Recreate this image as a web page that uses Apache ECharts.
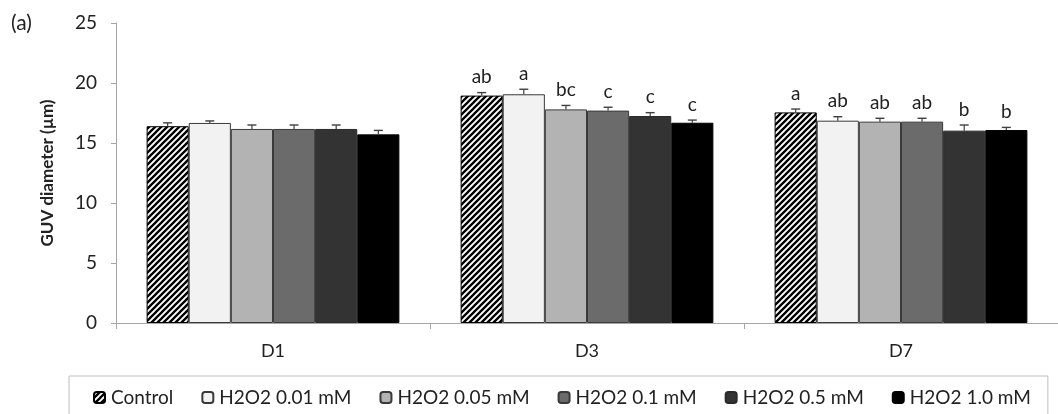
<!DOCTYPE html>
<html>
<head>
<meta charset="utf-8">
<script src="https://cdn.jsdelivr.net/npm/echarts@6/dist/echarts.min.js"></script>
<style>html,body{margin:0;padding:0;background:#fff;}#c{width:1058px;height:414px;}</style>
</head>
<body>
<div id="c"></div>
<script>
const categories = ['D1', 'D3', 'D7'];
const seriesNames = ['Control', 'H2O2 0.01 mM', 'H2O2 0.05 mM', 'H2O2 0.1 mM', 'H2O2 0.5 mM', 'H2O2 1.0 mM'];
const yTicks = [0, 5, 10, 15, 20, 25];

const control = [16.40, 18.95, 17.55];
const h2o2_001 = [16.67, 19.06, 16.86];
const h2o2_005 = [16.17, 17.80, 16.78];
const h2o2_01 = [16.17, 17.70, 16.78];
const h2o2_05 = [16.17, 17.25, 16.03];
const h2o2_10 = [15.72, 16.69, 16.08];

const errControl = [0.28, 0.25, 0.28];
const err001 = [0.17, 0.42, 0.33];
const err005 = [0.33, 0.33, 0.28];
const err01 = [0.33, 0.28, 0.28];
const err05 = [0.33, 0.28, 0.47];
const err10 = [0.33, 0.22, 0.22];

const lettersControl = ['', 'ab', 'a'];
const letters001 = ['', 'a', 'ab'];
const letters005 = ['', 'bc', 'ab'];
const letters01 = ['', 'c', 'ab'];
const letters05 = ['', 'c', 'b'];
const letters10 = ['', 'c', 'b'];

const values = [control, h2o2_001, h2o2_005, h2o2_01, h2o2_05, h2o2_10];
const errors = [errControl, err001, err005, err01, err05, err10];
const letters = [lettersControl, letters001, letters005, letters01, letters05, letters10];

function hatch() {
  const n = 6;
  const c = document.createElement('canvas');
  c.width = n; c.height = n;
  const ctx = c.getContext('2d');
  ctx.fillStyle = '#ffffff';
  ctx.fillRect(0, 0, n, n);
  ctx.strokeStyle = '#000000';
  ctx.lineWidth = 2.3;
  ctx.beginPath();
  ctx.moveTo(-1, n + 1); ctx.lineTo(n + 1, -1);
  ctx.moveTo(-1, 1); ctx.lineTo(1, -1);
  ctx.moveTo(n - 1, n + 1); ctx.lineTo(n + 1, n - 1);
  ctx.stroke();
  return c;
}

const fills = [{ image: hatch(), repeat: 'repeat' }, '#f2f2f2', '#b3b3b3', '#6b6b6b', '#333333', '#000000'];
const borders = ['#000000', '#3a3a3a', '#3a3a3a', '#3a3a3a', '#2a2a2a', '#000000'];
const FONT = 'Lato, "Open Sans", sans-serif';
const GAP = 0.195;

const chart = echarts.init(document.getElementById('c'), null, { renderer: 'canvas' });

const series = [];
seriesNames.forEach(function (name, i) {
  series.push({
    name: name,
    type: 'bar',
    data: values[i],
    barCategoryGap: (GAP * 100) + '%',
    barGap: '0%',
    itemStyle: { color: fills[i], borderColor: borders[i], borderWidth: 1 },
    emphasis: { disabled: true }
  });
});
seriesNames.forEach(function (name, i) {
  series.push({
    name: 'err' + i,
    type: 'custom',
    z: 5,
    data: values[i].map(function (v, k) { return [k, v, errors[i][k]]; }),
    renderItem: function (params, api) {
      const k = api.value(0);
      const v = api.value(1);
      const e = api.value(2);
      const letter = letters[i][k];
      const catW = api.size([1, 0])[0];
      const barW = catW * (1 - GAP) / 6;
      const off = (i - 2.5) * barW;
      const p0 = api.coord([k, v]);
      const p1 = api.coord([k, v + e]);
      const x = p0[0] + off;
      const half = 4.5;
      const children = [
        { type: 'line', shape: { x1: x, y1: p0[1], x2: x, y2: p1[1] }, style: { stroke: '#404040', lineWidth: 1.2 } },
        { type: 'line', shape: { x1: x - half, y1: p1[1], x2: x + half, y2: p1[1] }, style: { stroke: '#404040', lineWidth: 1.4 } }
      ];
      if (letter) {
        children.push({
          type: 'text',
          style: { text: letter, x: x, y: p1[1] - 6, align: 'center', verticalAlign: 'bottom', fill: '#222', fontSize: 19, fontFamily: FONT }
        });
      }
      return { type: 'group', children: children };
    }
  });
});

chart.setOption({
  animation: false,
  backgroundColor: '#ffffff',
  textStyle: { fontFamily: FONT },
  title: { text: '(a)', left: 11, top: 13, padding: 0, textStyle: { fontSize: 21, fontWeight: 'normal', color: '#222', fontFamily: FONT } },
  grid: { left: 116, top: 23, width: 951, height: 300 },
  legend: {
    data: seriesNames,
    left: 69,
    top: 376,
    padding: [12, 17, 20, 24],
    itemGap: 28,
    itemWidth: 11,
    itemHeight: 11,
    borderColor: '#bfbfbf',
    borderWidth: 1,
    selectedMode: false,
    textStyle: { fontSize: 19, color: '#222', fontFamily: FONT, padding: [0, 0, 0, 1] }
  },
  xAxis: {
    type: 'category',
    data: categories,
    axisLine: { lineStyle: { color: '#a6a6a6', width: 1 } },
    axisTick: { show: true, length: 6, lineStyle: { color: '#a6a6a6' } },
    axisLabel: { fontSize: 18, color: '#222', margin: 19, fontFamily: FONT }
  },
  yAxis: {
    type: 'value',
    min: yTicks[0],
    max: yTicks[yTicks.length - 1],
    interval: 5,
    name: 'GUV diameter (µm)',
    nameLocation: 'middle',
    nameGap: 60,
    nameTextStyle: { fontSize: 17, fontWeight: 'bold', color: '#222', fontFamily: FONT },
    axisLine: { show: true, lineStyle: { color: '#a6a6a6', width: 1 } },
    axisTick: { show: true, length: 5, lineStyle: { color: '#a6a6a6' } },
    splitLine: { show: false },
    axisLabel: { fontSize: 19, color: '#222', margin: 19, fontFamily: FONT }
  },
  series: series
});
</script>
</body>
</html>
